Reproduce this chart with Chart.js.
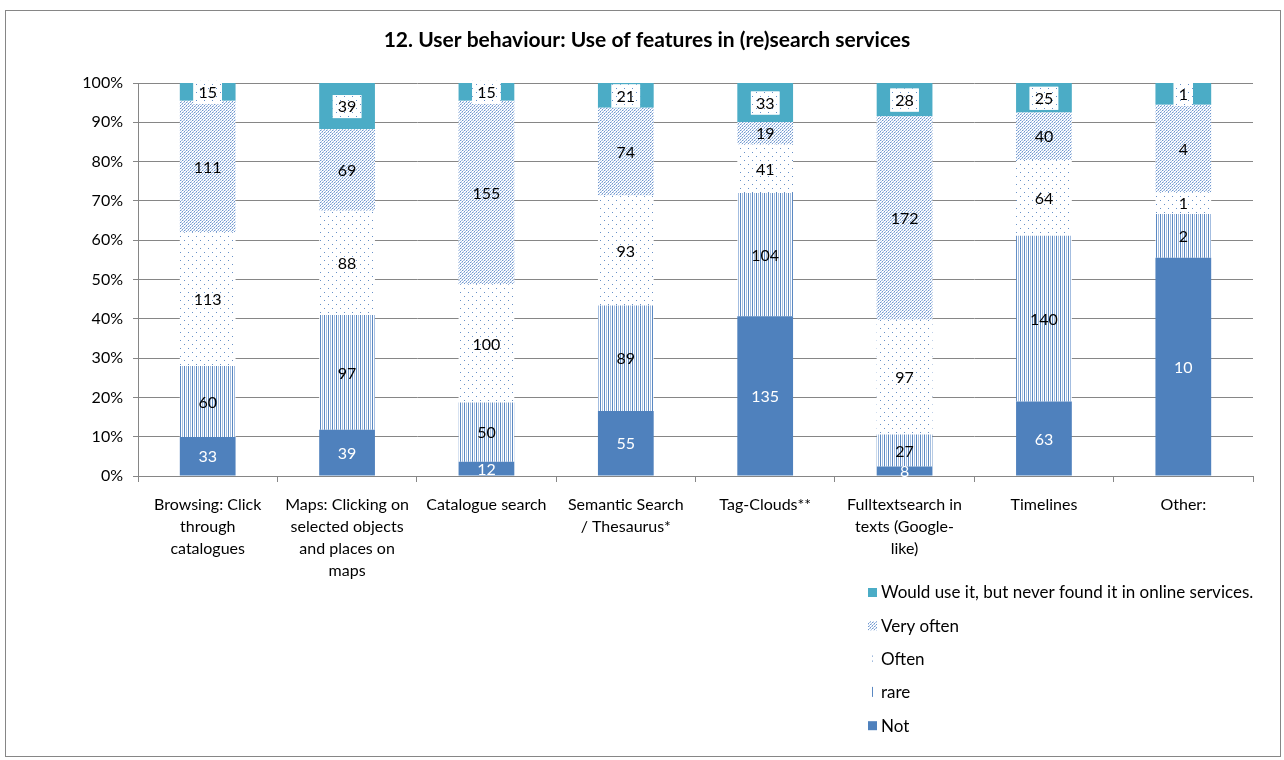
<!DOCTYPE html>
<html>
<head>
<meta charset="utf-8">
<script src="https://cdn.jsdelivr.net/npm/chart.js@4.4.1/dist/chart.umd.min.js"></script>
<style>
  body { margin: 0; background: #fff; }
  canvas { display: block; }
</style>
</head>
<body>
<canvas id="myChart" width="1284" height="760"></canvas>
<script>
var categories = [
  ["Browsing: Click", "through", "catalogues"],
  ["Maps: Clicking on", "selected objects", "and places on", "maps"],
  "Catalogue search",
  ["Semantic Search", "/ Thesaurus*"],
  "Tag-Clouds**",
  ["Fulltextsearch in", "texts (Google-", "like)"],
  "Timelines",
  "Other:"
];
var notVals       = [33, 39, 12, 55, 135, 8, 63, 10];
var rareVals      = [60, 97, 50, 89, 104, 27, 140, 2];
var oftenVals     = [113, 88, 100, 93, 41, 97, 64, 1];
var veryOftenVals = [111, 69, 155, 74, 19, 172, 40, 4];
var wouldVals     = [15, 39, 15, 21, 33, 28, 25, 1];
var yTicks = [0, 10, 20, 30, 40, 50, 60, 70, 80, 90, 100];

var FONT = "Lato, 'Open Sans', sans-serif";
var GRID = '#868686';

function makePattern(w, h, draw) {
  var c = document.createElement('canvas');
  c.width = w; c.height = h;
  var x = c.getContext('2d');
  x.fillStyle = '#fff';
  x.fillRect(0, 0, w, h);
  draw(x);
  return x.createPattern(c, 'repeat');
}

// wide upward diagonal, dashed look
var hatch = makePattern(6, 6, function (x) {
  for (var i = 0; i < 6; i++) {
    for (var j = 0; j < 6; j++) {
      var k = (i + j) % 3;
      if (k === 0) { x.fillStyle = (i % 2 === 0) ? '#6F97CF' : '#A9C1E3'; x.fillRect(i, j, 1, 1); }
      if (k === 1 && j % 2 === 0) { x.fillStyle = '#CBDAEF'; x.fillRect(i, j, 1, 1); }
    }
  }
});
// sparse dots
var dots = makePattern(8, 8, function (x) {
  x.fillStyle = '#6690C8';
  x.fillRect(0, 0, 1, 1);
  x.fillRect(4, 4, 1, 1);
});
// narrow vertical
var vlines = makePattern(4, 1, function (x) {
  x.fillStyle = '#5A88C2'; x.fillRect(0, 0, 1, 1);
  x.fillStyle = '#A3BDE0'; x.fillRect(2, 0, 1, 1);
});

var series = [
  { label: 'Not', data: notVals, fill: '#4F81BD' },
  { label: 'rare', data: rareVals, fill: vlines },
  { label: 'Often', data: oftenVals, fill: dots },
  { label: 'Very often', data: veryOftenVals, fill: hatch },
  { label: 'Would use it, but never found it in online services.', data: wouldVals, fill: '#4BACC6' }
];

var totals = categories.map(function (c, i) {
  var t = 0;
  series.forEach(function (s) { t += s.data[i]; });
  return t;
});

var datasets = series.map(function (s) {
  return {
    label: s.label,
    raw: s.data,
    data: s.data.map(function (v, i) { return v / totals[i] * 100; }),
    backgroundColor: s.fill,
    borderWidth: 0,
    barPercentage: 0.4,
    categoryPercentage: 1
  };
});

var extras = {
  id: 'extras',
  beforeDraw: function (chart) {
    var ctx = chart.ctx;
    ctx.save();
    ctx.strokeStyle = GRID;
    ctx.lineWidth = 1;
    ctx.strokeRect(5.5, 10.5, 1275, 746);
    ctx.restore();
  },
  afterDatasetsDraw: function (chart) {
    var ctx = chart.ctx;
    ctx.save();
    ctx.font = '16px ' + FONT;
    ctx.textAlign = 'center';
    ctx.textBaseline = 'middle';
    chart.data.datasets.forEach(function (ds, di) {
      var meta = chart.getDatasetMeta(di);
      meta.data.forEach(function (bar, i) {
        var p = bar.getProps(['x', 'y', 'base'], true);
        var cy = (p.y + p.base) / 2;
        var txt = String(ds.raw[i]);
        if (di === 4) {
          var w = ctx.measureText(txt).width + 10;
          ctx.fillStyle = '#fff';
          ctx.fillRect(p.x - w / 2, cy - 11, w, 23);
          ctx.fillStyle = dots;
          ctx.fillRect(p.x - w / 2, cy - 11, w, 23);
        }
        ctx.fillStyle = di === 0 ? '#fff' : '#000';
        ctx.fillText(txt, p.x, cy + 1);
      });
    });
    ctx.restore();
  },
  afterDraw: function (chart) {
    var ctx = chart.ctx;
    ctx.save();
    ctx.fillStyle = '#000';
    ctx.font = 'bold 21px ' + FONT;
    ctx.textAlign = 'center';
    ctx.textBaseline = 'middle';
    ctx.fillText('12. User behaviour: Use of features in (re)search services', 647, 40);

    // legend, reverse order
    ctx.font = '17px ' + FONT;
    ctx.textAlign = 'left';
    var lx = 868, ly = 592;
    for (var k = series.length - 1; k >= 0; k--) {
      var s = series[k];
      if (k === 2) {
        ctx.fillStyle = '#6690C8';
        ctx.fillRect(872, ly - 3, 1, 1);
        ctx.fillRect(872, ly + 2, 1, 1);
      } else if (k === 1) {
        ctx.fillStyle = '#5A88C2';
        ctx.fillRect(872, ly - 5, 1, 10);
      } else {
        ctx.fillStyle = s.fill;
        ctx.fillRect(lx, ly - 4, 9, 9);
      }
      ctx.fillStyle = '#000';
      ctx.fillText(s.label, 881, ly + 1);
      ly += 33.3;
    }
    ctx.restore();
  }
};

new Chart(document.getElementById('myChart').getContext('2d'), {
  type: 'bar',
  data: { labels: categories, datasets: datasets },
  options: {
    responsive: false,
    animation: false,
    layout: { padding: { left: 10, right: 31, top: 83, bottom: 0 } },
    plugins: {
      legend: { display: false },
      tooltip: { enabled: false },
      title: { display: false }
    },
    scales: {
      x: {
        stacked: true,
        grid: { drawOnChartArea: false, drawTicks: true, tickLength: 6, color: GRID, offset: true },
        border: { color: GRID },
        ticks: {
          color: '#000',
          font: { family: FONT, size: 16, lineHeight: 1.37 },
          padding: 12,
          maxRotation: 0,
          autoSkip: false
        },
        afterFit: function (s) { s.height = 284; }
      },
      y: {
        stacked: true,
        min: 0,
        max: 100,
        afterBuildTicks: function (s) { s.ticks = yTicks.map(function (v) { return { value: v }; }); },
        grid: { color: GRID, tickLength: 5 },
        border: { color: GRID },
        ticks: {
          color: '#000',
          font: { family: FONT, size: 16 },
          padding: 10,
          callback: function (v) { return v + '%'; }
        },
        afterFit: function (s) { s.width = 128; }
      }
    }
  },
  plugins: [extras]
});
</script>
</body>
</html>
